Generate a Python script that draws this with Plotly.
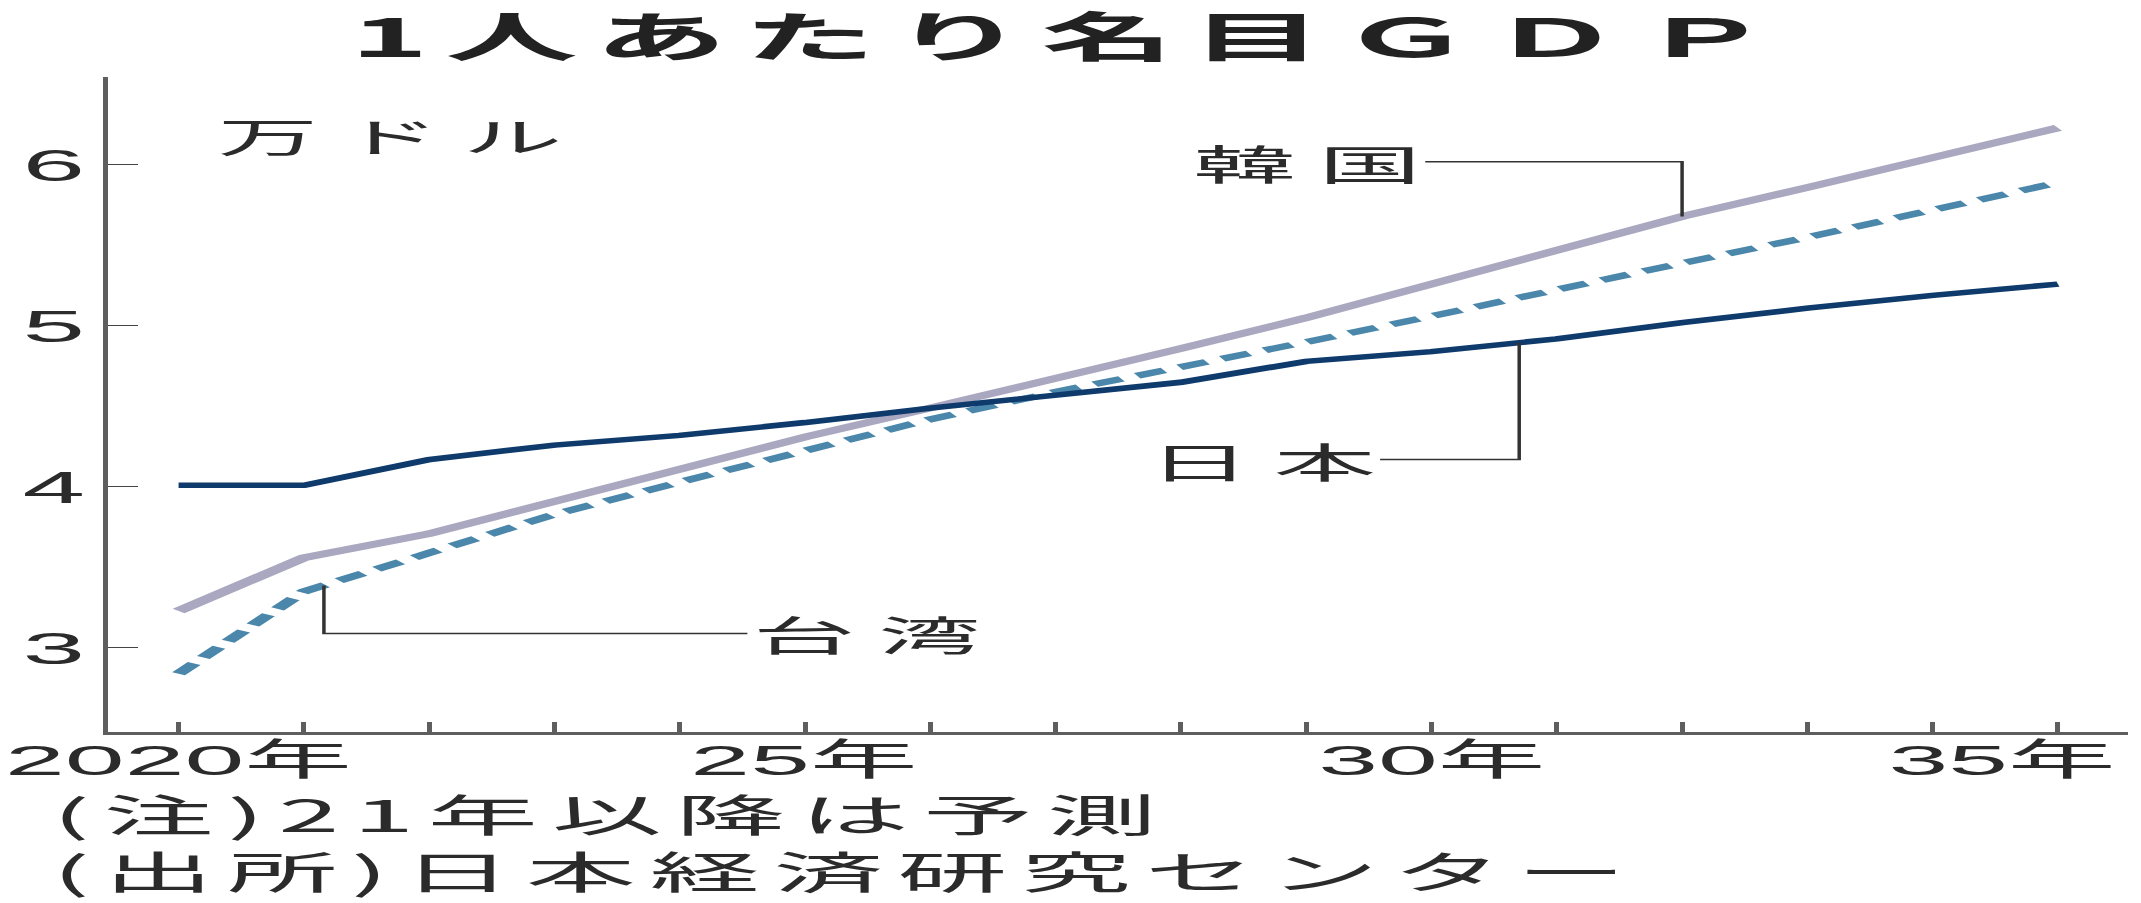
import numpy as np
import plotly.graph_objects as go

# ---- data: nominal GDP per capita, 10k USD (2021 onward are forecasts) ----
years = list(range(2020, 2036))
japan = [4.01, 4.01, 4.17, 4.26, 4.32, 4.40, 4.49, 4.57, 4.65, 4.78, 4.84, 4.92, 5.02, 5.11, 5.19, 5.26]
korea = [3.23, 3.56, 3.71, 3.91, 4.12, 4.31, 4.49, 4.67, 4.86, 5.05, 5.26, 5.46, 5.68, 5.86, 6.05, 6.23]
taiwan = [2.84, 3.35, 3.59, 3.83, 4.03, 4.23, 4.42, 4.59, 4.74, 4.90, 5.06, 5.23, 5.39, 5.55, 5.72, 5.89]

y_tick_vals = [3, 4, 5, 6]
x_label_years = [2020, 2025, 2030, 2035]
x_label_text = ["2020年", "25年", "30年", "35年"]

title_text = "1人あたり名目ＧＤＰ"
unit_text = "万 ド ル"
notes = ["(注)21年以降は予測", "(出所)日本経済研究センター"]

# ---- page geometry: the chart is laid out narrow, then widened horizontally ----
PAGE_W, PAGE_H = 2141, 903
BASE_W = 856
STRETCH = PAGE_W / BASE_W
M_L, M_R, M_T, M_B = 43, 5, 77, 171
PLOT_W = BASE_W - M_L - M_R
PLOT_H = PAGE_H - M_T - M_B

JP_FONT = "Noto Sans CJK JP"
NUM_FONT = "Liberation Sans, Noto Sans CJK JP"
TEXT = "#2b2b2b"
AXIS = "#5e5e5e"

C_JAPAN = "#0e3a6c"
C_KOREA = "#aaa7c0"
C_TAIWAN = "#4a87aa"


def tracked(s, n=2):
    """Spread the characters of a string with hair spaces."""
    return ("\u200a" * n).join(list(s))


fig = go.Figure()
fig.add_trace(go.Scatter(x=years, y=korea, mode="lines", name="韓国",
                         line=dict(color=C_KOREA, width=6.5)))
fig.add_trace(go.Scatter(x=years, y=taiwan, mode="lines", name="台湾",
                         line=dict(color=C_TAIWAN, width=6, dash="12px,7px")))
fig.add_trace(go.Scatter(x=years, y=japan, mode="lines", name="日本",
                         line=dict(color=C_JAPAN, width=5.5)))

# ---- leader lines from the series labels to their lines ----
# (label, series, year where the leader meets the line, label height, label-end year, side)
leaders = [
    ("韓 国", korea, 2032.0, 6.02, 2029.95, "right"),
    ("日 本", japan, 2030.7, 4.17, 2029.59, "right"),
    ("台 湾", taiwan, 2021.16, 3.09, 2024.54, "left"),
]
shapes = []
annotations = []
for label, series, x_hit, y_lab, x_lab, side in leaders:
    y_hit = float(np.interp(x_hit, years, series))
    shapes.append(dict(
        type="path", xref="x", yref="y",
        path=f"M {x_lab},{y_lab} L {x_hit},{y_lab} L {x_hit},{y_hit}",
        line=dict(color="#333333", width=1.4)))
    annotations.append(dict(
        x=x_lab, y=y_lab, xref="x", yref="y", text=label, showarrow=False,
        xanchor="right" if side == "right" else "left", yanchor="middle",
        font=dict(family=JP_FONT, size=41, color=TEXT)))

# ---- x tick labels (last one pulled inward) ----
for yr, txt in zip(x_label_years, x_label_text):
    annotations.append(dict(
        x=yr, y=-0.043, xref="x", yref="paper", text=txt, showarrow=False,
        xanchor="center", yanchor="middle", xshift=-22 if yr == x_label_years[-1] else 0,
        font=dict(family=NUM_FONT, size=43, color=TEXT)))

# ---- unit label ----
annotations.append(dict(
    x=0.052, y=1 - (135 - M_T) / PLOT_H, xref="paper", yref="paper", text=unit_text,
    showarrow=False, xanchor="left", yanchor="middle",
    font=dict(family=JP_FONT, size=40, color=TEXT)))

# ---- notes below the chart (one two-line block) ----
notes_y_px = 841
annotations.append(dict(
    x=(19 - M_L) / PLOT_W, y=-(notes_y_px - (PAGE_H - M_B)) / PLOT_H,
    xref="paper", yref="paper",
    text="<br>".join(tracked(s) for s in notes), showarrow=False, align="left",
    xanchor="left", yanchor="middle",
    font=dict(family=JP_FONT, size=44, color=TEXT)))

fig.update_layout(
    width=BASE_W, height=PAGE_H,
    margin=dict(l=M_L, r=M_R, t=M_T, b=M_B, pad=0),
    paper_bgcolor="white", plot_bgcolor="white",
    showlegend=False,
    title=dict(text=tracked(title_text), xref="container", yref="container",
               x=424 / BASE_W, y=1 - 38 / PAGE_H, xanchor="center", yanchor="middle",
               font=dict(family=JP_FONT, size=53, color="#222222", weight="bold")),
    shapes=shapes,
    annotations=annotations,
)

fig.update_xaxes(
    range=[2019.433, 2035.563], showgrid=False, zeroline=False,
    showline=True, linecolor=AXIS, linewidth=2.6,
    ticks="inside", tickvals=years, ticklen=10, tickwidth=1.6, tickcolor=AXIS,
    showticklabels=False, fixedrange=True)

fig.update_yaxes(
    range=[2.478, 6.546], showgrid=False, zeroline=False,
    showline=True, linecolor=AXIS, linewidth=2,
    ticks="inside", tickvals=y_tick_vals, ticklen=12, tickwidth=1.2, tickcolor="#444444",
    tickfont=dict(family="Liberation Sans", size=45, color=TEXT),
    ticklabelstandoff=-2, fixedrange=True)

post = (
    "var gd=document.getElementById('{plot_id}');"
    "document.documentElement.style.margin='0';document.body.style.margin='0';"
    "document.body.style.overflow='hidden';"
    "gd.style.transformOrigin='0 0';"
    "gd.style.transform='scaleX(%.6f)';" % STRETCH
)

fig.write_html("out.html", post_script=post, config={"displayModeBar": False})
